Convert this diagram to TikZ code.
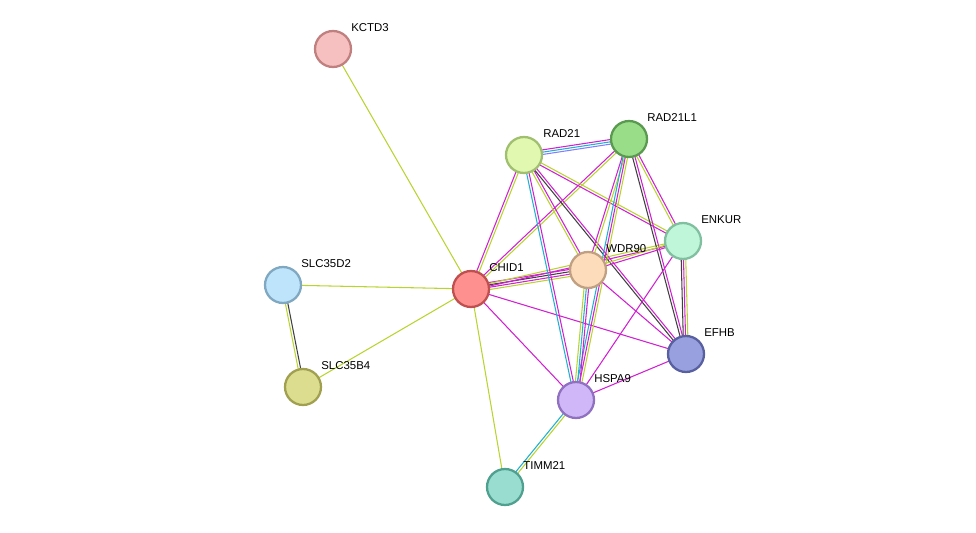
\documentclass[tikz,border=0pt]{standalone}
\usepackage{fontspec}
\setmainfont{Liberation Sans}
\usetikzlibrary{calc,backgrounds}
\definecolor{yg}{HTML}{B8D430}
\definecolor{mg}{HTML}{D020D0}
\definecolor{dk}{HTML}{404040}
\definecolor{cy}{HTML}{20B0D0}
\definecolor{bl}{HTML}{8080FF}
\tikzset{
  prot/.style={circle,minimum size=0.72cm,inner sep=0pt,line width=1.3pt},
  lab/.style={anchor=west,font=\fontsize{6.5pt}{7pt}\selectfont,inner sep=0pt},
  ln/.style={line width=0.6pt}
}
\newcommand{\ed}[4]{\draw[ln,#4] ($(#1.center)!#3!90:(#2.center)$) -- ($(#2.center)!#3!-90:(#1.center)$);}
\begin{document}
\begin{tikzpicture}[x=0.02cm,y=-0.02cm]
\useasboundingbox (0,0) rectangle (976,533);
\node[prot,fill={rgb,255:red,247;green,192;blue,192},draw={rgb,255:red,192;green,128;blue,128}] (kctd3) at (333,49) {};
\node[prot,fill={rgb,255:red,224;green,248;blue,176},draw={rgb,255:red,160;green,192;blue,112}] (rad21) at (524,155) {};
\node[prot,fill={rgb,255:red,153;green,221;blue,136},draw={rgb,255:red,90;green,154;blue,80}] (rad21l1) at (629,139) {};
\node[prot,fill={rgb,255:red,191;green,245;blue,216},draw={rgb,255:red,128;green,192;blue,160}] (enkur) at (683,241) {};
\node[prot,fill={rgb,255:red,253;green,220;blue,187},draw={rgb,255:red,192;green,160;blue,128}] (wdr90) at (588,270) {};
\node[prot,fill={rgb,255:red,255;green,144;blue,144},draw={rgb,255:red,192;green,80;blue,80}] (chid1) at (471,289) {};
\node[prot,fill={rgb,255:red,189;green,228;blue,251},draw={rgb,255:red,128;green,168;blue,192}] (slc35d2) at (283,285) {};
\node[prot,fill={rgb,255:red,221;green,221;blue,144},draw={rgb,255:red,160;green,160;blue,80}] (slc35b4) at (303,387) {};
\node[prot,fill={rgb,255:red,153;green,160;blue,224},draw={rgb,255:red,88;green,96;blue,160}] (efhb) at (686,354) {};
\node[prot,fill={rgb,255:red,208;green,184;blue,248},draw={rgb,255:red,144;green,112;blue,192}] (hspa9) at (576,400) {};
\node[prot,fill={rgb,255:red,153;green,221;blue,208},draw={rgb,255:red,80;green,160;blue,144}] (timm21) at (505,487) {};
\node[lab] (l1) at (351,28) {KCTD3};
\node[lab] (l2) at (543,134) {RAD21};
\node[lab] (l3) at (647,118) {RAD21L1};
\node[lab] (l4) at (701,220) {ENKUR};
\node[lab] (l5) at (606,249) {WDR90};
\node[lab] (l6) at (489,268) {CHID1};
\node[lab] (l7) at (301,264) {SLC35D2};
\node[lab] (l8) at (321,366) {SLC35B4};
\node[lab] (l9) at (704,333) {EFHB};
\node[lab] (l10) at (594,379) {HSPA9};
\node[lab] (l11) at (523,466) {TIMM21};
\begin{scope}[on background layer]
\ed{kctd3}{chid1}{0pt}{yg}
\ed{slc35d2}{chid1}{0pt}{yg}
\ed{slc35b4}{chid1}{0pt}{yg}
\ed{slc35d2}{slc35b4}{-0.7pt}{yg}\ed{slc35d2}{slc35b4}{0.7pt}{dk}
\ed{chid1}{timm21}{0pt}{yg}
\ed{timm21}{hspa9}{-0.7pt}{yg}\ed{timm21}{hspa9}{0.7pt}{cy}
\ed{chid1}{rad21}{-0.7pt}{yg}\ed{chid1}{rad21}{0.7pt}{mg}
\ed{chid1}{rad21l1}{-0.7pt}{yg}\ed{chid1}{rad21l1}{0.7pt}{mg}
\ed{chid1}{wdr90}{-2pt}{yg}\ed{chid1}{wdr90}{-0.7pt}{mg}\ed{chid1}{wdr90}{0.7pt}{dk}\ed{chid1}{wdr90}{2pt}{mg}
\ed{chid1}{enkur}{-0.7pt}{mg}\ed{chid1}{enkur}{0.7pt}{yg}
\ed{chid1}{efhb}{0pt}{mg}
\ed{chid1}{hspa9}{0pt}{mg}
\ed{rad21}{rad21l1}{-1.3pt}{bl}\ed{rad21}{rad21l1}{0pt}{cy}\ed{rad21}{rad21l1}{1.3pt}{mg}
\ed{rad21}{wdr90}{-0.7pt}{yg}\ed{rad21}{wdr90}{0.7pt}{mg}
\ed{rad21}{hspa9}{-0.7pt}{cy}\ed{rad21}{hspa9}{0.7pt}{mg}
\ed{rad21}{enkur}{-0.7pt}{mg}\ed{rad21}{enkur}{0.7pt}{yg}
\ed{rad21}{efhb}{-0.7pt}{dk}\ed{rad21}{efhb}{0.7pt}{mg}
\ed{rad21l1}{wdr90}{-0.7pt}{mg}\ed{rad21l1}{wdr90}{0.7pt}{yg}
\ed{rad21l1}{hspa9}{-1.3pt}{cy}\ed{rad21l1}{hspa9}{0pt}{mg}\ed{rad21l1}{hspa9}{1.3pt}{yg}
\ed{rad21l1}{enkur}{-0.7pt}{yg}\ed{rad21l1}{enkur}{0.7pt}{mg}
\ed{rad21l1}{efhb}{-0.7pt}{dk}\ed{rad21l1}{efhb}{0.7pt}{mg}
\ed{wdr90}{enkur}{-0.7pt}{mg}\ed{wdr90}{enkur}{0.7pt}{yg}
\ed{wdr90}{hspa9}{-1.3pt}{yg}\ed{wdr90}{hspa9}{0pt}{cy}\ed{wdr90}{hspa9}{1.3pt}{mg}
\ed{wdr90}{efhb}{0pt}{mg}
\ed{enkur}{efhb}{-1.3pt}{dk}\ed{enkur}{efhb}{0pt}{mg}\ed{enkur}{efhb}{1.3pt}{yg}
\ed{enkur}{hspa9}{0pt}{mg}
\ed{hspa9}{efhb}{0pt}{mg}
\end{scope}
\end{tikzpicture}
\end{document}
